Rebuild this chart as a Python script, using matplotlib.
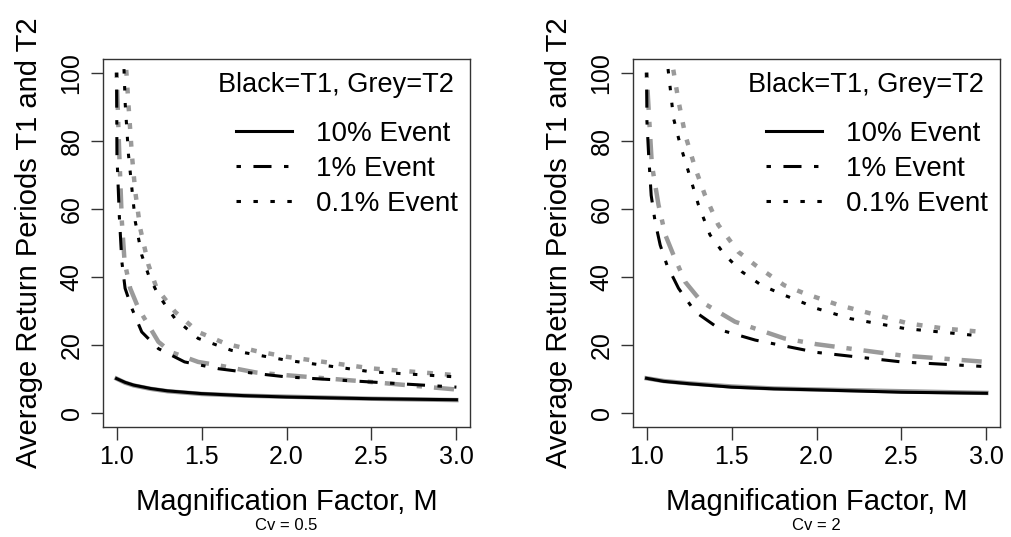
import matplotlib
matplotlib.use("Agg")
import matplotlib.pyplot as plt

plt.rcParams['font.family'] = ['Liberation Sans', 'DejaVu Sans']
plt.rcParams['lines.scale_dashes'] = False

# ---- data (M on x, return period on y) ----
# Cv = 0.5
a_x_t1_10 = [1.0, 1.05, 1.1, 1.2, 1.3, 1.5, 1.75, 2.0, 2.5, 3.0]
a_y_t1_10 = [10.2, 9.1, 8.3, 7.3, 6.6, 5.8, 5.2, 4.8, 4.3, 4.0]
a_x_t2_10 = [1.0, 1.05, 1.1, 1.2, 1.3, 1.5, 1.75, 2.0, 2.5, 3.0]
a_y_t2_10 = [10.2, 9.0, 8.2, 7.2, 6.5, 5.7, 5.2, 4.9, 4.3, 3.9]

a_x_t1_1 = [1.0, 1.002, 1.016, 1.031, 1.05, 1.09, 1.148, 1.246, 1.40, 1.60, 1.82, 2.0, 2.5, 3.0]
a_y_t1_1 = [100, 75.9, 58, 44.5, 36.7, 30.8, 23.9, 19, 15.1, 13.1, 11.7, 10.7, 9.2, 7.7]
a_x_t2_1 = [1.0, 1.016, 1.031, 1.047, 1.08, 1.129, 1.246, 1.32, 1.48, 1.6, 1.82, 2.0, 2.5, 3.0]
a_y_t2_1 = [100, 75.9, 56.3, 44.5, 36.7, 30.8, 21, 18, 15.1, 14.1, 12.0, 11.2, 9.2, 7.0]

a_x_t1_01 = [1.04, 1.051, 1.07, 1.09, 1.11, 1.148, 1.188, 1.246, 1.344, 1.48, 1.676, 2.0, 2.5, 3.0]
a_y_t1_01 = [106, 90.6, 75.9, 66, 56.3, 46.5, 40.6, 34.7, 27.8, 22, 18.5, 15.6, 12.2, 10.7]
a_x_t2_01 = [1.05, 1.07, 1.09, 1.11, 1.139, 1.188, 1.236, 1.344, 1.48, 1.64, 1.82, 2.0, 2.5, 3.0]
a_y_t2_01 = [106, 90.6, 75.9, 65, 54.3, 43.5, 36.7, 29.8, 23.9, 20.5, 18.3, 16.6, 13.2, 11.2]

# Cv = 2
b_x_t1_10 = [1.0, 1.1, 1.25, 1.5, 1.75, 2.0, 2.5, 3.0]
b_y_t1_10 = [10.3, 9.4, 8.7, 7.7, 7.2, 6.9, 6.2, 5.9]
b_x_t2_10 = [1.0, 1.1, 1.25, 1.5, 1.75, 2.0, 2.5, 3.0]
b_y_t2_10 = [10.3, 9.5, 8.8, 7.9, 7.3, 7.0, 6.5, 6.0]

b_x_t1_1 = [1.0, 1.002, 1.012, 1.027, 1.05, 1.08, 1.12, 1.188, 1.286, 1.44, 1.64, 1.89, 2.0, 2.5, 2.97]
b_y_t1_1 = [100, 85.7, 75.9, 64, 56.3, 49.4, 43.5, 36.7, 29.8, 24.4, 21.5, 19, 17.9, 15.1, 13.8]
b_x_t2_1 = [1.0, 1.016, 1.031, 1.07, 1.11, 1.158, 1.227, 1.324, 1.52, 1.81, 2.0, 2.5, 3.0]
b_y_t2_1 = [100, 85.7, 73, 61.2, 52.4, 46.5, 38.6, 32.7, 26.9, 22, 20.3, 17, 15.1]

b_x_t1_01 = [1.115, 1.139, 1.158, 1.198, 1.246, 1.305, 1.373, 1.46, 1.56, 1.676, 1.81, 1.93, 2.0, 2.2, 2.52, 2.97]
b_y_t1_01 = [106, 95.5, 86.7, 78.8, 71, 61.2, 52.4, 46.5, 41.6, 37.6, 34.7, 32.3, 30.8, 27.8, 24.9, 22.7]
b_x_t2_01 = [1.14, 1.188, 1.227, 1.286, 1.344, 1.422, 1.54, 1.64, 1.81, 1.93, 2.13, 2.32, 2.54, 2.75, 3.0]
b_y_t2_01 = [106, 91.6, 81.8, 72, 64, 55.3, 47.4, 43.5, 37.6, 35.2, 31.8, 29.3, 26.4, 24.9, 23.8]

event_labels = ["10% Event", "1% Event", "0.1% Event"]
panel_notes = ["Cv = 0.5", "Cv = 2"]

GREY = "#9a9a9a"
black_styles = ["-", (0, (3.2, 9, 13, 9)), (0, (3.2, 9))]
grey_styles = ["-", (0, (3.8, 8.6, 14.5, 8.6)), (0, (4.2, 8.6))]

panels = [
    [(a_x_t1_10, a_y_t1_10, a_x_t2_10, a_y_t2_10),
     (a_x_t1_1, a_y_t1_1, a_x_t2_1, a_y_t2_1),
     (a_x_t1_01, a_y_t1_01, a_x_t2_01, a_y_t2_01)],
    [(b_x_t1_10, b_y_t1_10, b_x_t2_10, b_y_t2_10),
     (b_x_t1_1, b_y_t1_1, b_x_t2_1, b_y_t2_1),
     (b_x_t1_01, b_y_t1_01, b_x_t2_01, b_y_t2_01)],
]

fig = plt.figure(figsize=(10.11, 5.37), dpi=100)
lefts = [103 / 1011, 633 / 1011]
W, H = 367 / 1011, 368 / 537
B = 1 - 427 / 537

for k, curves in enumerate(panels):
    ax = fig.add_axes([lefts[k], B, W, H])
    handles = []
    for i, (x1, y1, x2, y2) in enumerate(curves):
        ax.plot(x2, y2, color=GREY, lw=3.2, linestyle=grey_styles[i])
        h, = ax.plot(x1, y1, color="black", lw=2.2, linestyle=black_styles[i])
        handles.append(h)

    ax.set_xlim(0.92, 3.08)
    ax.set_ylim(-4, 104)
    ax.set_xticks([1.0, 1.5, 2.0, 2.5, 3.0])
    ax.set_xticklabels(["1.0", "1.5", "2.0", "2.5", "3.0"])
    ax.set_yticks([0, 20, 40, 60, 80, 100])
    ax.tick_params(length=9, width=1, labelsize=18, pad=4, color="#333333")
    ax.tick_params(axis="y", labelrotation=90, pad=5)
    for lab in ax.get_yticklabels():
        lab.set_va("center")
    for s in ax.spines.values():
        s.set_linewidth(1.0)
        s.set_color("#333333")

    ax.set_xlabel("Magnification Factor, M", fontsize=21)
    ax.xaxis.set_label_coords(0.5, -0.165)
    ax.set_ylabel("Average Return Periods T1 and T2", fontsize=21)
    ax.yaxis.set_label_coords(-0.163, 0.5)

    ax.text(0.636, 0.93, "Black=T1, Grey=T2", transform=ax.transAxes,
            ha="center", va="center", fontsize=19.5)
    ax.legend(handles, event_labels, loc="upper right", bbox_to_anchor=(0.966, 0.832),
              frameon=False, fontsize=20, handlelength=2.0, handletextpad=0.85,
              labelspacing=0.33, borderpad=0, borderaxespad=0)

    fig.text(lefts[k] + W / 2, 0.022, panel_notes[k], ha="center", va="center", fontsize=12)

fig.savefig("out.png", dpi=100)
